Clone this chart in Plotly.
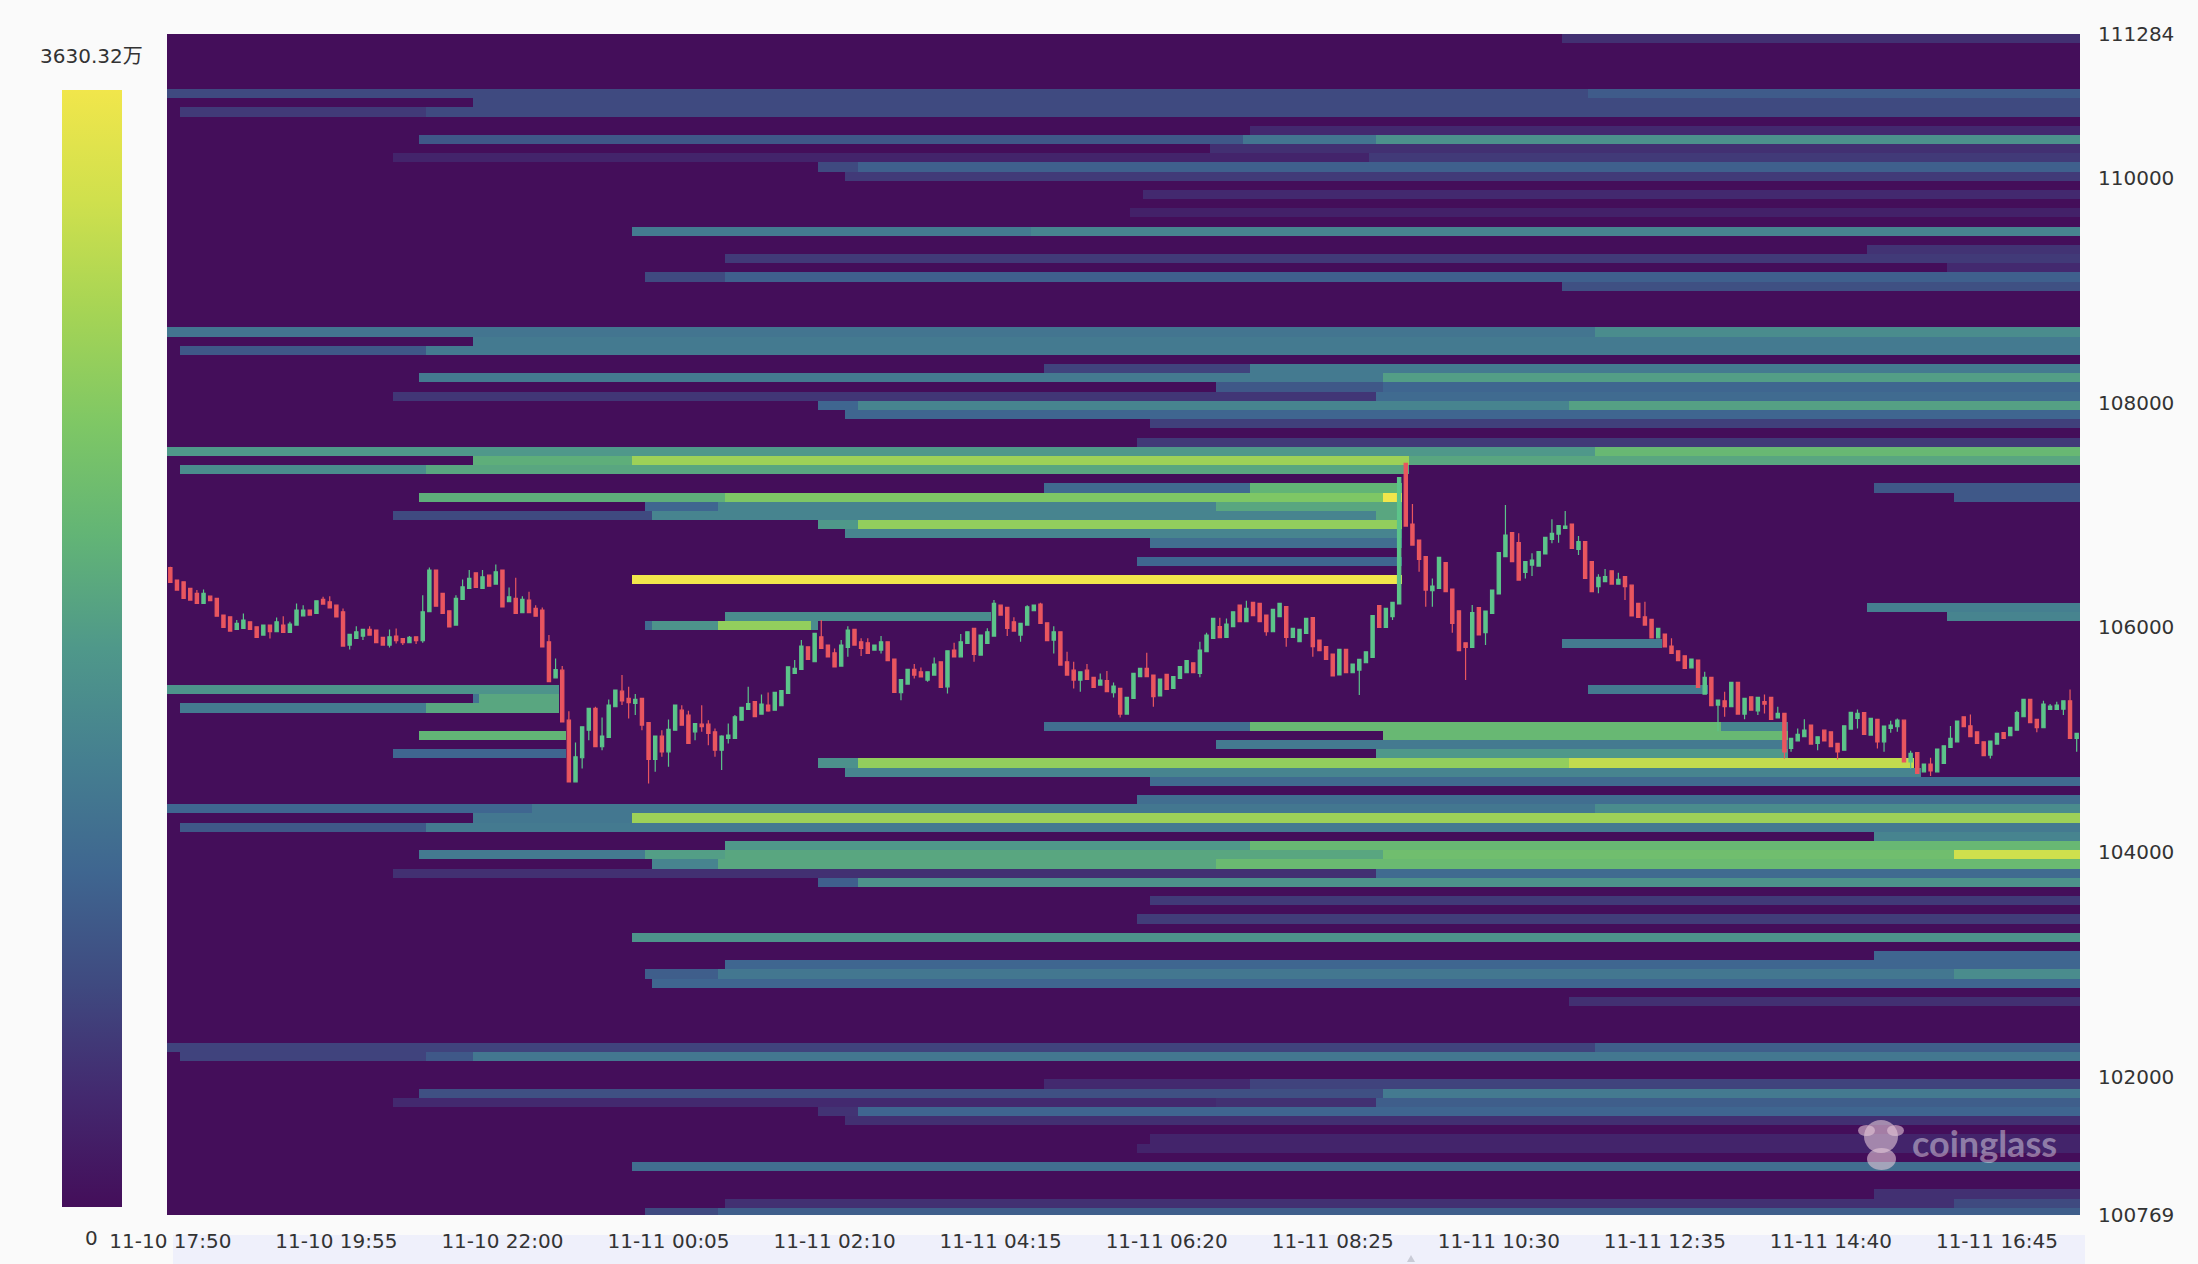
import plotly.graph_objects as go

# ---- time axis ----
tick_index = [0, 25, 50, 75, 100, 125, 150, 175, 200, 225, 250, 275]
tick_labels = ["11-10 17:50", "11-10 19:55", "11-10 22:00", "11-11 00:05", "11-11 02:10", "11-11 04:15",
               "11-11 06:20", "11-11 08:25", "11-11 10:30", "11-11 12:35", "11-11 14:40", "11-11 16:45"]
price_ticks = [111284, 110000, 108000, 106000, 104000, 102000, 100769]
price_top = 111284
price_bottom = 100769
row_step = 81.66
scale_max = 3630.32  # 万

# ---- candles (5-minute bars) ----
opens = [
106532,106422,106407,106348,106303,106214,106279,106259,106110,106095,
105983,105991,106051,106006,105932,106021,105962,106021,105956,106021,
106104,106155,106125,106250,106229,106199,106140,105843,105902,105923,
105983,105977,105911,105843,105923,105902,105864,105917,105882,106140,
106511,106303,106149,106021,106250,106348,106487,106348,106466,106386,
106511,106229,106259,106131,106244,106170,106155,105873,105552,105620,
105175,104626,104840,105086,105279,104938,105021,105294,105433,105368,
105323,105368,105152,104825,105032,104893,105086,105264,105219,105071,
105139,105139,105071,104908,105012,105012,105175,105270,105339,105229,
105309,105264,105303,105413,105591,105626,105828,105695,105917,105843,
105775,105656,105822,105983,105873,105864,105799,105799,105873,105719,
105419,105496,105627,105606,105532,105576,105695,105472,105799,105739,
105858,105992,105754,105858,105923,106199,106179,106051,105932,106021,
106149,106208,106042,105888,105962,105695,105620,105532,105620,105555,
105487,105526,105419,105457,105229,105368,105562,105636,105577,105390,
105582,105458,105547,105597,105686,105591,105784,105903,106007,105912,
106007,106200,106051,106224,106215,106111,105962,106096,106185,105912,
105873,105948,106087,105888,105829,105764,105577,105805,105597,105621,
105686,105734,106194,106001,106096,106209,107461,106921,106779,106630,
106327,106348,106577,106342,106149,105864,105823,106176,105954,106126,
106298,106630,106844,106755,106491,106556,106547,106654,106785,106832,
106883,106921,106696,106764,106586,106363,106408,106505,106386,106452,
106377,106214,106095,106072,105908,105941,105834,105793,105748,105641,
105710,105407,105555,105309,105347,105294,105511,105229,105383,105258,
105339,105377,105196,105235,104923,104991,105027,105131,104968,105086,
105071,104968,104908,105095,105190,105241,105042,105181,104982,105101,
105116,105175,104804,104887,104715,104784,104715,104790,104932,104982,
105205,105125,105071,104982,104864,104962,105063,105036,105086,105205,
105359,105181,105107,105270,105270,105273,105347,105012]
closes = [
106401,106333,106259,106244,106214,106303,106238,106101,106000,105968,
106036,106066,105983,105911,106021,105962,106051,105956,106030,106155,
106155,106110,106238,106208,106175,106095,105834,105938,105962,105983,
105932,105864,105843,105917,105882,105864,105911,105882,106140,106511,
106190,106125,106006,106259,106362,106437,106357,106451,106368,106496,
106184,106273,106125,106250,106131,106101,105828,105517,105626,105160,
104626,104849,105116,105279,104938,105033,105309,105442,105347,105330,
105359,105131,104825,105033,104893,105092,105308,105130,104967,105145,
105116,105056,104908,105032,105041,105205,105288,105323,105205,105318,
105258,105422,105437,105650,105635,105834,105716,105947,105813,105739,
105650,105843,105977,105843,105813,105769,105843,105873,105704,105422,
105537,105627,105576,105561,105606,105674,105466,105793,105739,105873,
105962,105760,105932,105962,106214,106110,105992,105968,106036,106184,
106199,106036,105882,105962,105665,105576,105532,105606,105537,105466,
105532,105428,105478,105229,105377,105591,105636,105562,105384,105541,
105449,105562,105651,105704,105597,105799,105933,106081,105909,106031,
106140,106051,106170,106105,106051,105962,106161,106215,105912,105992,
105983,106081,105829,105793,105716,105568,105805,105597,105675,105716,
105784,106105,106001,106170,106224,107334,106903,106734,106606,106333,
106369,106624,106319,106037,105793,105823,106132,105933,106146,106333,
106666,106823,106586,106422,106586,106600,106675,106802,106838,106906,
106903,106704,106764,106437,106319,106446,106452,106386,106428,106363,
106104,106089,106021,105908,105992,105828,105769,105704,105635,105718,
105466,105555,105303,105353,105294,105511,105229,105368,105264,105377,
105318,105181,105235,104893,105012,105048,105086,104962,105027,104991,
104938,104893,105125,105244,105235,105048,105190,104982,105122,105131,
105175,104804,104879,104700,104784,104724,104917,104947,105012,105166,
105116,105027,104968,104858,104988,105057,105012,105110,105241,105359,
105152,105107,105318,105300,105309,105347,105012,105057]
highs = [
106540,106425,106410,106348,106333,106339,106279,106259,106110,106095,
106066,106125,106051,106006,106021,106021,106089,106101,106051,106214,
106199,106155,106238,106273,106279,106199,106170,105938,106012,105983,
106012,105977,105911,105983,105991,105902,105923,105917,106288,106535,
106511,106303,106149,106288,106428,106511,106487,106511,106466,106561,
106511,106357,106443,106279,106318,106199,106178,105932,105724,105656,
105255,104976,105116,105279,105294,105199,105359,105448,105576,105472,
105407,105368,105152,105033,105086,105181,105310,105308,105258,105150,
105308,105175,105101,105040,105145,105220,105288,105472,105345,105404,
105422,105422,105437,105650,105710,105888,105828,105947,106066,105843,
105813,105888,106012,105983,105903,105903,105843,105923,105873,105719,
105537,105627,105674,105644,105606,105733,105695,105793,105864,105941,
105962,105992,105932,105992,106244,106199,106179,106090,106036,106199,
106199,106220,106042,106012,105962,105784,105695,105606,105674,105555,
105591,105612,105511,105457,105377,105591,105636,105775,105577,105541,
105582,105562,105651,105704,105686,105873,105953,106081,106087,106081,
106140,106200,106238,106224,106215,106111,106161,106221,106185,105992,
105983,106081,106087,105888,105829,105764,105805,105805,105675,105716,
105784,106105,106194,106170,106224,107334,107461,107099,106779,106630,
106437,106624,106577,106342,106149,105864,106200,106176,106146,106333,
106666,107090,106844,106838,106586,106660,106675,106802,106963,106906,
107037,106921,106814,106764,106586,106473,106520,106505,106487,106452,
106377,106214,106229,106072,105992,105941,105903,105793,105748,105718,
105710,105606,105555,105353,105428,105511,105511,105368,105383,105377,
105404,105377,105294,105235,105012,105101,105184,105131,105027,105086,
105071,104968,105125,105244,105270,105241,105190,105181,105122,105169,
105190,105175,104902,104887,104784,104840,104917,104947,105122,105166,
105205,105226,105071,104982,104988,105057,105063,105110,105258,105359,
105359,105181,105347,105318,105339,105347,105448,105057]
lows = [
106400,106330,106255,106244,106214,106214,106238,106101,106000,105968,
105983,105991,105983,105911,105932,105902,105962,105956,105956,106021,
106104,106110,106125,106208,106175,106095,105834,105804,105902,105888,
105932,105864,105843,105822,105858,105843,105864,105852,105864,106140,
106190,106125,106006,106021,106250,106348,106357,106348,106368,106386,
106184,106229,106125,106131,106131,106101,105828,105517,105552,105160,
104626,104626,104745,104997,104938,104908,105021,105294,105309,105190,
105220,105086,104610,104715,104848,104759,105086,105130,104967,104997,
105071,104952,104848,104730,104967,105012,105175,105270,105205,105229,
105250,105264,105303,105413,105591,105626,105716,105695,105813,105739,
105650,105656,105739,105843,105745,105769,105799,105769,105704,105422,
105353,105496,105546,105561,105517,105576,105466,105413,105739,105739,
105858,105695,105754,105858,105923,106110,105923,105968,105873,106021,
106149,106036,105882,105769,105665,105576,105457,105428,105537,105466,
105487,105428,105377,105199,105229,105368,105562,105562,105295,105390,
105449,105458,105547,105597,105597,105556,105784,105903,105909,105912,
106007,106051,106051,106105,106051,105927,105962,106096,105829,105912,
105873,105948,105740,105793,105716,105568,105577,105597,105597,105398,
105686,105734,106001,106001,106066,106209,106903,106734,106497,106185,
106185,106348,106319,105954,105793,105532,105823,105933,105844,106126,
106298,106630,106586,106422,106437,106458,106547,106654,106749,106755,
106883,106704,106645,106437,106319,106304,106408,106386,106386,106244,
106104,106089,106021,105908,105908,105828,105769,105704,105635,105641,
105466,105407,105303,105077,105205,105294,105229,105184,105264,105220,
105235,105181,105196,104834,104893,104991,105027,104962,104908,104991,
104938,104825,104908,105095,105101,105048,105042,104923,104893,105063,
105071,104804,104745,104700,104715,104677,104715,104790,104932,104982,
105116,105027,104968,104858,104834,104962,105012,105036,105086,105205,
105152,105068,105107,105270,105270,105220,105012,104893]

# ---- liquidation heat bands: row (top = 0), bar index where the level changes, share of the scale ----
seg_row = [0, 6,6, 7, 8,8, 10, 11,11,11, 12, 13,13, 14,14, 15, 17, 19, 21,21, 23, 24, 25, 26,26, 27,
           32,32, 33, 34,34, 36,36, 37,37, 38,38, 39,39, 40,40,40, 41, 42, 44, 45,45, 46,46,46, 47,47,47,
           49,49,49,49, 50,50,50,50,50, 51,51,51,51, 52,52,52,52, 53,53,53, 54,54, 55,55, 57,57, 59,59,
           62, 63,63,63, 64,64,64,64,64, 66,66, 71,71,71,71, 72,72,72, 73,73,73,
           75,75,75,75, 76,76,76,76, 77,77, 78,78,78,78, 79,79,79,79, 80,80, 81, 83, 84,84,84, 85,85, 86,86,
           87, 88,88, 89,89,89,89,89, 90,90,90, 91,91, 92,92, 94, 96, 98, 100, 101, 102,102,102, 103, 105,
           110,110, 111,111,111, 114,114, 115,115, 116,116,116, 117,117, 118, 120, 121, 123, 126, 127,127, 128,128]
seg_col = [210, 0,214, 46, 2,39, 163, 38,162,182, 157, 34,181, 98,104, 102, 147, 145, 70,130, 256, 84, 268, 72,84, 210,
           0,215, 46, 2,39, 132,163, 38,183, 158,183, 34,182, 98,104,211, 102, 148, 146, 0,215, 46,70,187, 2,39,187,
           132,163,186,257, 38,84,183,186,269, 72,83,158,186, 34,73,182,186, 98,104,186, 102,186, 148,186, 146,186, 70,186,
           256, 84,124,268, 72,73,83,97,98, 210,225, 0,59,214,232, 46,47,59, 2,39,59,
           132,163,234,244, 38,60,183,244, 158,244, 34,60,182,244, 98,104,211,263, 102,264, 148, 146, 0,55,215, 46,70, 2,39,
           257, 84,163, 38,72,84,183,269, 73,83,158, 34,182, 98,104, 148, 146, 70, 257, 84, 72,83,269, 73, 211,
           0,215, 2,39,46, 132,163, 38,183, 34,158,182, 98,104, 102, 148, 146, 70, 257, 84,269, 72,83]
seg_level = [.12, .2,.26, .2, .15,.2, .1, .25,.36,.47, .12, .08,.15, .2,.28, .15, .1, .07, .38,.42, .13, .15, .1, .2,.28, .22,
             .36,.45, .38, .25,.38, .18,.38, .38,.52, .25,.3, .14,.32, .3,.42,.53, .3, .17, .15, .5,.62, .58,.78,.55, .45,.55,0,
             .32,.6,0,.25, .58,.7,1,0,.25, .3,.42,.55,0, .2,.42,.55,0, .5,.75,0, .42,0, .33,0, .3,0, 1,0,
             .4, .45,0,.42, .32,.48,.75,.45,0, .38,0, .48,0,.38,0, .35,.55,0, .38,.55,0,
             .33,.62,.42,0, .6,0,.62,0, .38,0, .3,0,.5,0, .47,.75,.87,0, .42,0, .32, .33, .3,.37,.45, .37,.78, .25,.38,
             .42, .5,.62, .38,.52,.55,.65,.9, .42,.55,.63, .12,.32, .28,.48, .15, .16, .48, .3, .3, .27,.37,.45, .3, .12,
             .18,.27, .18,.25,.37, .1,.18, .22,.38, .1,.12,.27, .13,.3, .12, .08, .08, .33, .12, .12,.2, .2,.27]

colors = [[0, "#440e5a"], [.1, "#43296f"], [.2, "#3f4a80"], [.3, "#3f6690"], [.4, "#457f90"], [.5, "#4f988a"],
          [.6, "#62b476"], [.7, "#7ec765"], [.8, "#a5d455"], [.9, "#cfe04d"], [1, "#f1e64b"]]

n_bars = len(opens)
n_rows = 129
bars = list(range(n_bars))
row_prices = [price_top - (r + .5) * row_step for r in range(n_rows)]
z = [[0.0] * n_bars for _ in range(n_rows)]
for r, c, lv in zip(seg_row, seg_col, seg_level):
    for k in range(c, n_bars):
        z[r][k] = lv * scale_max

W, H = 2198, 1264
L, R, T, B = 167, 2080, 34, 1215
def px(x): return (x - L) / (R - L)
def py(y): return (B - y) / (B - T)

fig = go.Figure()
fig.add_trace(go.Heatmap(
    x=bars, y=row_prices, z=z, zmin=0, zmax=scale_max, colorscale=colors, zsmooth=False, hoverinfo="skip",
    colorbar=dict(xref="container", yref="container", x=62 / W, xanchor="left", y=1 - 96 / H, yanchor="top",
                  thickness=60, thicknessmode="pixels", len=1117, lenmode="pixels", xpad=0, ypad=0,
                  outlinewidth=0, showticklabels=False, ticks="")))
fig.add_trace(go.Candlestick(
    x=bars, open=opens, high=highs, low=lows, close=closes,
    increasing=dict(line=dict(color="#5cc48a", width=1.2), fillcolor="#5cc48a"),
    decreasing=dict(line=dict(color="#e9565f", width=1.2), fillcolor="#e9565f"),
    whiskerwidth=0, showlegend=False))

FONT = "DejaVu Sans, Noto Sans CJK SC, sans-serif"
TEXT = "#333333"
mascot = "rgba(228,200,215,0.6)"
shapes = [
    dict(type="rect", xref="paper", yref="paper", x0=px(173), x1=px(2085), y0=py(1235), y1=py(1264),
         fillcolor="#eff0fb", line_width=0, layer="below"),
    dict(type="path", xref="paper", yref="paper", fillcolor="#c9cbd6", line_width=0, layer="below",
         path=f"M{px(1407)},{py(1262)} L{px(1411)},{py(1255)} L{px(1415)},{py(1262)} Z"),
    dict(type="circle", xref="paper", yref="paper", x0=px(1864), x1=px(1898), y0=py(1153), y1=py(1120),
         fillcolor=mascot, line_width=0),
    dict(type="circle", xref="paper", yref="paper", x0=px(1858), x1=px(1875), y0=py(1136), y1=py(1125),
         fillcolor=mascot, line_width=0),
    dict(type="circle", xref="paper", yref="paper", x0=px(1887), x1=px(1904), y0=py(1136), y1=py(1125),
         fillcolor=mascot, line_width=0),
    dict(type="circle", xref="paper", yref="paper", x0=px(1867), x1=px(1896), y0=py(1170), y1=py(1148),
         fillcolor=mascot, line_width=0),
]
annotations = [
    dict(text="3630.32万", xref="paper", yref="paper", x=px(91), y=py(56), xanchor="center", yanchor="middle",
         showarrow=False, font=dict(size=20, color=TEXT, family=FONT)),
    dict(text="0", xref="paper", yref="paper", x=px(91), y=py(1238), xanchor="center", yanchor="middle",
         showarrow=False, font=dict(size=20, color=TEXT, family=FONT)),
    dict(text="<b>coinglass</b>", xref="paper", yref="paper", x=px(1984), y=py(1143), xanchor="center", yanchor="middle",
         showarrow=False, font=dict(size=36, color="rgba(255,255,255,0.42)", family="Lato, sans-serif")),
]
fig.update_layout(
    width=W, height=H, paper_bgcolor="#fafafa", plot_bgcolor="#440e5a",
    margin=dict(l=L, r=W - R, t=T, b=H - B, autoexpand=False),
    font=dict(family=FONT, color=TEXT, size=20),
    shapes=shapes, annotations=annotations, showlegend=False,
    xaxis=dict(range=[-.5, n_bars - .5], rangeslider=dict(visible=False), tickmode="array",
               tickvals=tick_index, ticktext=tick_labels, showgrid=False, zeroline=False, showline=False,
               ticks="", ticklabelstandoff=12, tickfont=dict(size=20, family=FONT, color=TEXT)),
    yaxis=dict(range=[price_bottom, price_top], side="right", tickmode="array", tickvals=price_ticks,
               ticktext=[str(p) for p in price_ticks], showgrid=False, zeroline=False, showline=False,
               ticks="", ticklabelstandoff=17, tickfont=dict(size=20, family=FONT, color=TEXT)),
)
fig.write_html("out.html", config=dict(displayModeBar=False),
               post_script="document.body.style.margin='0';document.body.style.background='#fafafa';")
